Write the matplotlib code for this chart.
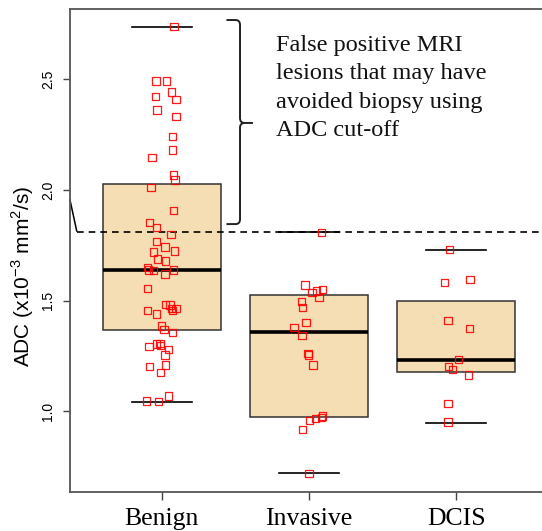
import matplotlib
matplotlib.use("Agg")
import matplotlib.pyplot as plt
from matplotlib.path import Path
from matplotlib.patches import PathPatch

plt.rcParams['font.family'] = ['Liberation Sans', 'DejaVu Sans']
plt.rcParams['mathtext.fontset'] = 'custom'
plt.rcParams['mathtext.rm'] = 'Liberation Sans'
plt.rcParams['lines.scale_dashes'] = False

groups = ["Benign", "Invasive", "DCIS"]

# box summaries
q1 = [1.366, 0.974, 1.178]
med = [1.638, 1.360, 1.232]
q3 = [2.028, 1.527, 1.497]
whislo = [1.043, 0.721, 0.948]
whishi = [2.737, 1.810, 1.730]

# individual lesions: ADC values and jitter offsets
benign_adc = [2.738, 2.493, 2.493, 2.443, 2.409, 2.422, 2.362, 2.331, 2.243, 2.181,
              2.148, 2.067, 2.045, 2.012, 1.906, 1.852, 1.832, 1.798, 1.767, 1.742,
              1.720, 1.724, 1.688, 1.679, 1.649, 1.639, 1.635, 1.639, 1.620, 1.554,
              1.484, 1.480, 1.465, 1.456, 1.456, 1.465, 1.440, 1.385, 1.371, 1.355,
              1.304, 1.305, 1.296, 1.292, 1.280, 1.254, 1.202, 1.209, 1.176, 1.069,
              1.047, 1.043]
benign_jit = [0.083, -0.039, 0.034, 0.067, 0.097, -0.043, -0.032, 0.097, 0.072, 0.072,
              -0.066, 0.079, 0.090, -0.073, 0.079, -0.084, -0.034, 0.063, -0.034, 0.022,
              -0.054, 0.086, -0.027, 0.027, -0.095, -0.091, -0.057, 0.079, 0.022, -0.095,
              0.027, 0.056, 0.068, -0.095, 0.072, 0.097, -0.034, 0.000, 0.016, 0.075,
              -0.034, -0.012, -0.007, -0.086, 0.045, 0.022, -0.084, 0.024, -0.010, 0.045,
              -0.102, -0.023]
invasive_adc = [1.807, 1.571, 1.538, 1.544, 1.551, 1.515, 1.497, 1.468, 1.400, 1.380,
                1.342, 1.262, 1.254, 1.209, 0.979, 0.973, 0.967, 0.958, 0.919, 0.720]
invasive_jit = [0.084, -0.027, 0.020, 0.052, 0.091, 0.068, -0.050, -0.043, -0.020, -0.102,
                -0.048, -0.007, -0.004, 0.027, 0.091, 0.084, 0.045, 0.003, -0.043, 0.000]
dcis_adc = [1.732, 1.581, 1.595, 1.411, 1.375, 1.235, 1.202, 1.190, 1.164, 1.034, 0.952]
dcis_jit = [-0.045, -0.079, 0.095, -0.054, 0.090, 0.016, -0.052, -0.025, 0.084, -0.054, -0.056]

cutoff = 1.81
note = "False positive MRI\nlesions that may have\navoided biopsy using\nADC cut-off"

fig = plt.figure(figsize=(5.42, 5.31), dpi=100)
ax = fig.add_axes([70 / 542, 39.3 / 531, 477.8 / 542, 482.7 / 531])

stats = []
for i, g in enumerate(groups):
    stats.append(dict(label=g, q1=q1[i], med=med[i], q3=q3[i],
                      whislo=whislo[i], whishi=whishi[i], fliers=[]))
ax.bxp(stats, positions=[1, 2, 3], widths=0.8, capwidths=0.41, patch_artist=True,
       showfliers=False,
       boxprops=dict(facecolor='#F5DEB3', edgecolor='#333333', linewidth=1.1),
       medianprops=dict(color='black', linewidth=2.6, solid_capstyle='butt'),
       whiskerprops=dict(linestyle='none'),
       capprops=dict(color='black', linewidth=1.2))

for pos, (vals, jit) in enumerate([(benign_adc, benign_jit),
                                   (invasive_adc, invasive_jit),
                                   (dcis_adc, dcis_jit)], start=1):
    ax.scatter([pos + j for j in jit], vals, marker='s', s=28, facecolors='none',
               edgecolors='#FF0000', linewidths=0.9, zorder=5, alpha=0.9)

# cut-off line
ax.plot([0.425, 3.7], [cutoff, cutoff], color='black', lw=1.2, dashes=(4.8, 3.6),
        zorder=4, clip_on=False)
ax.plot([0.377, 0.4226], [1.955, 1.815], color='black', lw=1.1, clip_on=False)

# brace
xb, xl, xt = 1.532, 1.44, 1.62
yt, ym, yb = 2.768, 2.303, 1.846
rx, ry = 0.03, 0.022
verts = [(xl, yt), (xb - rx, yt), (xb, yt), (xb, yt - ry), (xb, ym + ry), (xb, ym), (xb + rx, ym), (xt, ym),
         (xl, yb), (xb - rx, yb), (xb, yb), (xb, yb + ry), (xb, ym - ry), (xb, ym), (xb + rx, ym)]
codes = [Path.MOVETO, Path.LINETO, Path.CURVE3, Path.CURVE3, Path.LINETO, Path.CURVE3, Path.CURVE3, Path.LINETO,
         Path.MOVETO, Path.LINETO, Path.CURVE3, Path.CURVE3, Path.LINETO, Path.CURVE3, Path.CURVE3]
ax.add_patch(PathPatch(Path(verts, codes), facecolor='none', edgecolor='#222222', lw=1.4, zorder=4))

ax.text(1.776, 2.70, note, family=['Liberation Serif'], fontsize=17.5, va='top', ha='left',
        linespacing=1.46, color='#111111')

ax.set_xlim(0.377, 3.623)
ax.set_ylim(0.6367, 2.8179)
ax.set_xticks([1, 2, 3])
ax.set_xticklabels(groups, family=['Liberation Serif'], fontsize=18.5)
ax.set_yticks([1.0, 1.5, 2.0, 2.5])
ax.set_yticklabels(['1.0', '1.5', '2.0', '2.5'], rotation=90, va='center', fontsize=10)
ax.tick_params(axis='y', length=5.2, width=1, pad=5.5, color='#444444')
ax.tick_params(axis='x', length=5.5, width=1, pad=6.5, color='#444444')
for s in ax.spines.values():
    s.set_color('#555555')
    s.set_linewidth(1.3)

fig.text(23 / 542, 1 - 276 / 531, r'ADC (x10$^{-3}$ mm$^2$/s)', rotation=90,
         ha='center', va='center', fontsize=15)

fig.savefig("out.png", dpi=100)
